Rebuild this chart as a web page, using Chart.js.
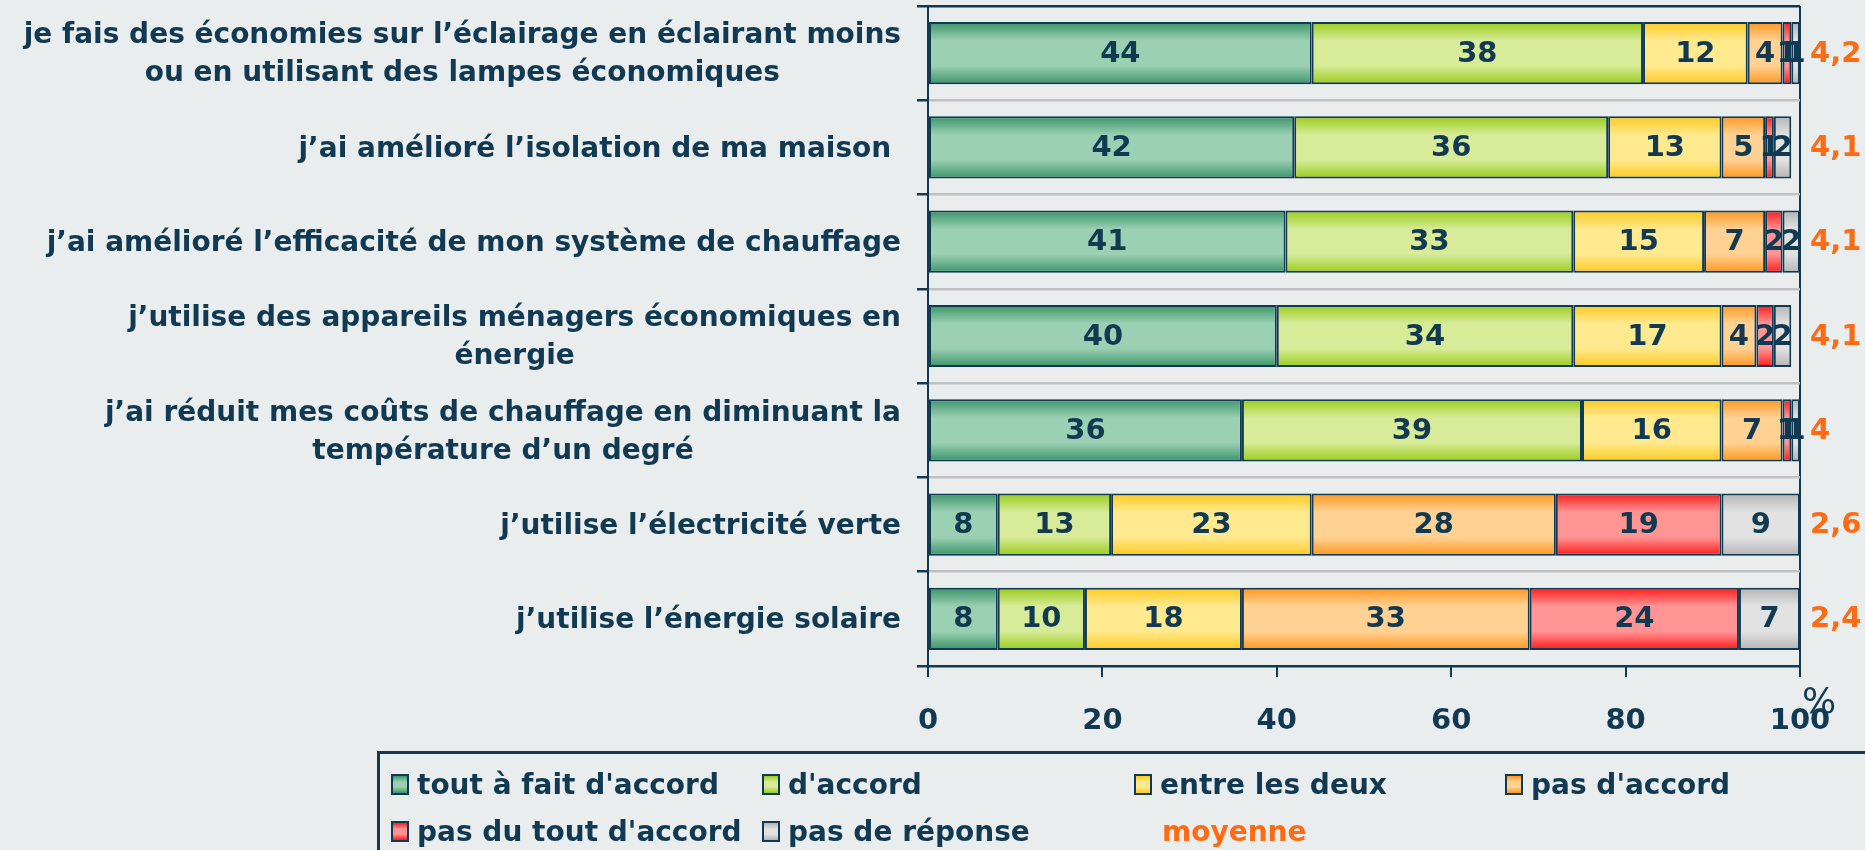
<!DOCTYPE html>
<html>
<head>
<meta charset="utf-8">
<script src="https://cdn.jsdelivr.net/npm/chart.js@4.4.1/dist/chart.umd.min.js"></script>
<style>
  body { margin: 0; background: #e9edee; width: 1865px; height: 850px; overflow: hidden; position: relative; font-family: "DejaVu Sans", sans-serif; }
  #wrap { position: absolute; left: 0; top: 0; width: 1865px; height: 850px; }
  #legend { position: absolute; left: 377px; top: 751px; right: 0; bottom: 0; border-top: 3px solid #113a52; border-left: 3px solid #113a52; }
  .item { position: absolute; display: flex; align-items: center; font-weight: bold; font-size: 28px; color: #113a52; white-space: nowrap; }
  .box { width: 18px; height: 21px; border: 2px solid #113a52; margin-right: 8px; box-sizing: border-box; }
</style>
</head>
<body>
<div id="wrap"><canvas id="chart" width="1865" height="850"></canvas></div>
<div id="legend"></div>

<script>
const categories = [
  ["je fais des économies sur l’éclairage en éclairant moins", "ou en utilisant des lampes économiques"],
  ["j’ai amélioré l’isolation de ma maison "],
  ["j’ai amélioré l’efficacité de mon système de chauffage"],
  ["j’utilise des appareils ménagers économiques en", "énergie"],
  ["j’ai réduit mes coûts de chauffage en diminuant la", "température d’un degré"],
  ["j’utilise l’électricité verte"],
  ["j’utilise l’énergie solaire"]
];

const seriesNames = ["tout à fait d'accord", "d'accord", "entre les deux", "pas d'accord", "pas du tout d'accord", "pas de réponse"];

const toutAFait = [44, 42, 41, 40, 36, 8, 8];
const daccord = [38, 36, 33, 34, 39, 13, 10];
const entreDeux = [12, 13, 15, 17, 16, 23, 18];
const pasDaccord = [4, 5, 7, 4, 7, 28, 33];
const pasDuTout = [1, 1, 2, 2, 1, 19, 24];
const pasDeReponse = [1, 2, 2, 2, 1, 9, 7];

const moyenne = ["4,2", "4,1", "4,1", "4,1", "4", "2,6", "2,4"];
const moyenneLabel = "moyenne";

const xTicks = [0, 20, 40, 60, 80, 100];

const navy = "#113a52";
const orange = "#ff6a13";
// edge colour / light middle colour for each series
const darkCols = ["#3a946a", "#99cc1a", "#ffc91f", "#ff961f", "#ff1a1a", "#b4b4b4"];
const lightCols = ["#9bd0b2", "#d7eb99", "#ffe98f", "#ffd294", "#ff9494", "#e2e2e2"];

const allSeries = [toutAFait, daccord, entreDeux, pasDaccord, pasDuTout, pasDeReponse];

const FONT = "'DejaVu Sans', sans-serif";

const decor = {
  id: "decor",
  beforeDatasetsDraw(chart) {
    const ctx = chart.ctx;
    chart.data.datasets.forEach((ds, i) => {
      chart.getDatasetMeta(i).data.forEach((el) => {
        const h = el.height;
        const top = el.y - h / 2;
        const g = ctx.createLinearGradient(0, top, 0, top + h);
        g.addColorStop(0, darkCols[i]);
        g.addColorStop(0.3, lightCols[i]);
        g.addColorStop(0.7, lightCols[i]);
        g.addColorStop(1, darkCols[i]);
        el.options.backgroundColor = g;
      });
    });
  },
  afterDatasetsDraw(chart) {
    const ctx = chart.ctx;
    ctx.save();
    ctx.fillStyle = navy;
    ctx.font = "bold 29px " + FONT;
    ctx.textAlign = "center";
    ctx.textBaseline = "middle";
    chart.data.datasets.forEach((ds, i) => {
      chart.getDatasetMeta(i).data.forEach((el, j) => {
        const v = ds.data[j];
        if (!v) return;
        ctx.fillText(String(v), (el.x + el.base) / 2, el.y + 1);
      });
    });

    // moyenne on the right
    const yScale = chart.scales.y;
    const area = chart.chartArea;
    ctx.fillStyle = orange;
    ctx.textAlign = "left";
    moyenne.forEach((m, j) => {
      ctx.fillText(m, area.right + 10, yScale.getPixelForValue(j) + 1);
    });
    ctx.restore();
  },
  afterDraw(chart) {
    const ctx = chart.ctx;
    const yScale = chart.scales.y;
    const area = chart.chartArea;
    ctx.save();
    ctx.fillStyle = navy;
    ctx.font = "bold 28px " + FONT;
    ctx.textBaseline = "middle";
    ctx.textAlign = "center";
    const lineH = 38;
    const right = area.left - 27;
    categories.forEach((lines, j) => {
      const cy = yScale.getPixelForValue(j) + 2;
      const w = Math.max(...lines.map((l) => ctx.measureText(l).width));
      const cx = right - w / 2;
      lines.forEach((l, k) => {
        ctx.fillText(l, cx, cy + (k - (lines.length - 1) / 2) * lineH);
      });
    });
    // % sign after the x axis
    ctx.font = "36px " + FONT;
    ctx.textAlign = "center";
    ctx.fillText("%", area.right + 19, area.bottom + 38);
    ctx.restore();
  }
};

new Chart(document.getElementById("chart"), {
  type: "bar",
  data: {
    labels: categories,
    datasets: allSeries.map((d, i) => ({
      label: seriesNames[i],
      data: d,
      // scriptable so every bar gets its own options object (gradient set per bar)
      backgroundColor: () => lightCols[i],
      borderColor: navy,
      borderWidth: 2,
      borderSkipped: false,
      barPercentage: 0.66,
      categoryPercentage: 1
    }))
  },
  options: {
    indexAxis: "y",
    responsive: false,
    animation: false,
    layout: { padding: { top: 6, right: 65, left: 0, bottom: 0 } },
    plugins: { legend: { display: false }, tooltip: { enabled: false } },
    scales: {
      x: {
        stacked: true,
        min: 0,
        max: 100,
        afterBuildTicks: (s) => { s.ticks = xTicks.map((v) => ({ value: v })); },
        afterFit: (s) => { s.height = 184; },
        ticks: { color: navy, font: { family: FONT, size: 29, weight: "bold" }, padding: 27 },
        grid: {
          color: (c) => (c.tick && c.tick.value === 100 ? navy : "rgba(0,0,0,0)"),
          lineWidth: 2,
          tickColor: navy,
          tickLength: 11
        },
        border: { color: navy, width: 2 }
      },
      y: {
        stacked: true,
        afterFit: (s) => { s.width = 928; },
        ticks: { display: false },
        grid: {
          offset: true,
          color: (c) => (c.type !== "tick" || c.index === 0 ? navy : "#c0c0c0"),
          lineWidth: 2.5,
          tickColor: navy,
          tickLength: 11
        },
        border: { color: navy, width: 2 }
      }
    }
  },
  plugins: [decor]
});

// legend, laid out in the same grid as the original
const legendPos = [[391, 32], [762, 32], [1134, 32], [1505, 32], [391, 79], [762, 79]];
const legend = document.getElementById("legend");
seriesNames.forEach((name, i) => {
  const it = document.createElement("div");
  it.className = "item";
  it.style.left = (legendPos[i][0] - 380) + "px";
  it.style.top = (legendPos[i][1] - 18) + "px";
  it.innerHTML = `<span class="box" style="background:linear-gradient(${darkCols[i]},${lightCols[i]} 35%,${lightCols[i]} 65%,${darkCols[i]})"></span>${name}`;
  legend.appendChild(it);
});
const moy = document.createElement("div");
moy.className = "item";
moy.style.left = (1162 - 380) + "px";
moy.style.top = (79 - 18) + "px";
moy.style.color = orange;
moy.textContent = moyenneLabel;
legend.appendChild(moy);
</script>
</body>
</html>
